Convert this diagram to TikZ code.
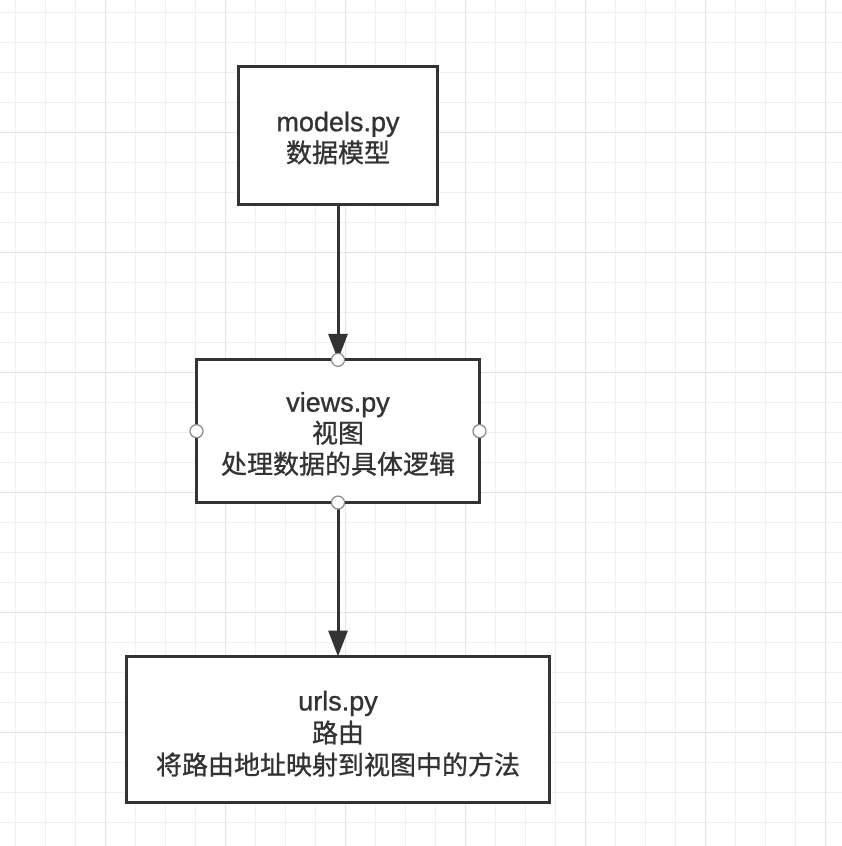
\documentclass[tikz,border=0pt]{standalone}
\usepackage{fontspec}
\setmainfont{Liberation Sans}[FakeBold=0.9]
\newfontfamily\cjk{Noto Sans CJK SC}[FakeBold=0.9]
\usetikzlibrary{arrows.meta}
\definecolor{ink}{HTML}{333333}
\definecolor{gridminor}{HTML}{F0F0F0}
\definecolor{gridmajor}{HTML}{E4E4E4}
\definecolor{handle}{HTML}{8A8A8A}
\newcommand{\lat}[1]{{\fontsize{27}{31}\selectfont #1}}
\newcommand{\han}[1]{{\cjk #1}}
\begin{document}
\begin{tikzpicture}[x=1pt,y=-1pt,
  box/.style={draw=ink, line width=3pt, fill=white, text=ink, align=center,
    inner sep=0pt, outer sep=0pt, font=\fontsize{26}{31}\selectfont},
  conn/.style={draw=ink, line width=3pt, -{Triangle[length=26pt,width=19pt]}},
  handlept/.style={circle, draw=handle, fill=white, line width=1.2pt,
    minimum size=13pt, inner sep=0pt}]
\useasboundingbox (0,0) rectangle (842,846);
\fill[white] (0,0) rectangle (842,846);
\foreach \x in {15,45,...,842} \draw[gridminor, line width=1pt] (\x,0) -- (\x,846);
\foreach \y in {12.7,42.7,...,846} \draw[gridminor, line width=1pt] (0,\y) -- (842,\y);
\foreach \x in {105,225,...,842} \draw[gridmajor, line width=1pt] (\x,0) -- (\x,846);
\foreach \y in {132.7,252.7,...,846} \draw[gridmajor, line width=1pt] (0,\y) -- (842,\y);

\node[box, minimum width=199.6pt, minimum height=137.7pt] (models) at (338,135.3)
  {\rule{0pt}{25pt}\lat{models.py}\\\han{数据模型}};
\node[box, minimum width=283pt, minimum height=142.7pt] (views) at (338,431.2)
  {\rule{0pt}{25pt}\lat{views.py}\\\han{视图}\\\han{处理数据的具体逻辑}};
\node[box, minimum width=423.7pt, minimum height=146pt, font=\fontsize{26}{32}\selectfont] (urls) at (338,729.5)
  {\rule{0pt}{28pt}\lat{urls.py}\\\han{路由}\\\han{将路由地址映射到视图中的方法}};

\draw[conn] (models.south) -- (views.north);
\draw[conn] (views.south) -- (urls.north);

\node[handlept] (hn) at (views.north) {};
\node[handlept] (hs) at (views.south) {};
\node[handlept] (hw) at (views.west) {};
\node[handlept] (he) at (views.east) {};
\end{tikzpicture}
\end{document}
